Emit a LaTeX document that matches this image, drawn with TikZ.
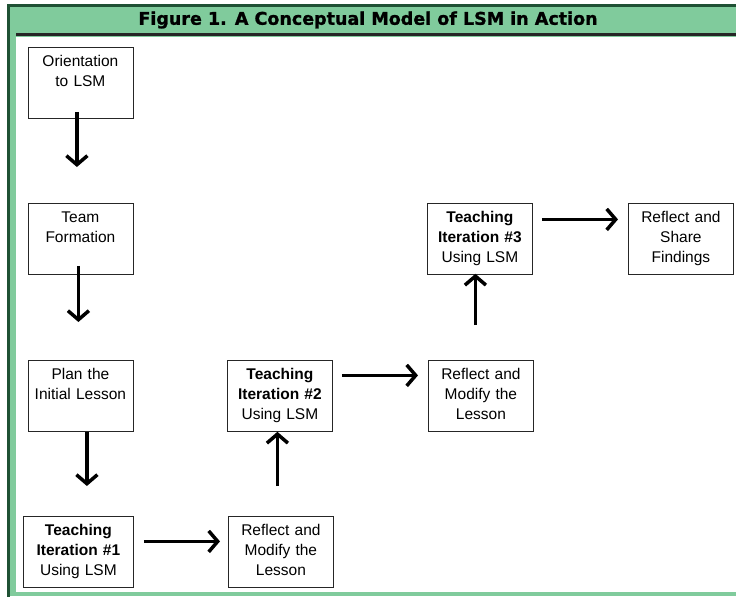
\documentclass[tikz,border=0pt]{standalone}
\usepackage{fontspec}
\setmainfont{Liberation Sans}
\newfontfamily\titlefont{DejaVu Sans}[BoldFeatures={FakeBold=1.2}]
\usetikzlibrary{calc,arrows.meta,positioning}

\definecolor{frameGreen}{HTML}{80CB9C}
\definecolor{darkGreen}{HTML}{1F5134}

\begin{document}
\begin{tikzpicture}
  [x=1pt, y=-1pt, >={Straight Barb[length=9pt,width=21pt]}]

% define styles
\tikzstyle{stage} = [draw=black!85, line width=0.8pt, anchor=north west,
  text width=100pt, align=center, inner xsep=2.5pt, inner ysep=0pt,
  text height=19.5pt, text depth=51.5pt, font=\fontsize{15.5}{20}\selectfont];
\tikzstyle{flow} = [->, line width=3.5pt, black];

% define new commands
\newcommand{\conDown}[5]{
  \draw [flow, shorten <=#4, shorten >=#5] ([xshift=#3] #1.south) -- ([xshift=#3] #1.south |- #2.north);
}

\newcommand{\conUp}[5]{
  \draw [flow, shorten <=#4, shorten >=#5] ([xshift=#3] #1.north) -- ([xshift=#3] #1.north |- #2.south);
}

\newcommand{\conRight}[5]{
  \draw [flow, shorten <=#4, shorten >=#5] ([yshift=#3] #1.east) -- ([yshift=#3] #1.east -| #2.west);
}

\useasboundingbox (0,0) rectangle (736,597);

% frame and title bar
\fill[frameGreen] (10,7) rectangle (736,596);
\fill[white] (16,37) rectangle (736,592);
\fill[darkGreen] (7,4) rectangle (736,7);
\fill[darkGreen] (7,4) rectangle (10,597);
\fill[black!85] (16,33) rectangle (736,35.5);
\node[font=\titlefont\bfseries\fontsize{17.5}{20}\selectfont] (title) at (368,20)
  {Figure 1. A Conceptual Model of LSM in Action};

% draw nodes
\node[stage] (orient) at (27.5,47) {Orientation\\to LSM};
\node[stage] (team) at (27.5,203) {Team\\Formation};
\node[stage] (plan) at (27.5,360) {Plan the\\Initial Lesson};
\node[stage, text width=105pt] (teach1) at (23,516)
  {\textbf{Teaching}\\\textbf{Iteration \#1}\\Using LSM};
\node[stage] (refl1) at (228,516) {Reflect and\\Modify the\\Lesson};
\node[stage] (teach2) at (227,360)
  {\textbf{Teaching}\\\textbf{Iteration \#2}\\Using LSM};
\node[stage] (refl2) at (428,360) {Reflect and\\Modify the\\Lesson};
\node[stage] (teach3) at (427,203)
  {\textbf{Teaching}\\\textbf{Iteration \#3}\\Using LSM};
\node[stage] (share) at (628,203) {Reflect and\\Share\\Findings};

% draw arrows
\conDown{orient}{team}{-3.5pt}{-7pt}{36pt}
\conDown{team}{plan}{-2pt}{-9pt}{38pt}
\conDown{plan}{teach1}{6.5pt}{0pt}{30pt}
\conRight{teach1}{refl1}{10.5pt}{10pt}{8pt}
\conUp{refl1}{teach2}{-3.5pt}{30pt}{0pt}
\conRight{teach2}{refl2}{20.5pt}{9pt}{10pt}
\conUp{refl2}{teach3}{-5.5pt}{35pt}{-1pt}
\conRight{teach3}{share}{19.5pt}{9pt}{10pt}

\end{tikzpicture}
\end{document}
